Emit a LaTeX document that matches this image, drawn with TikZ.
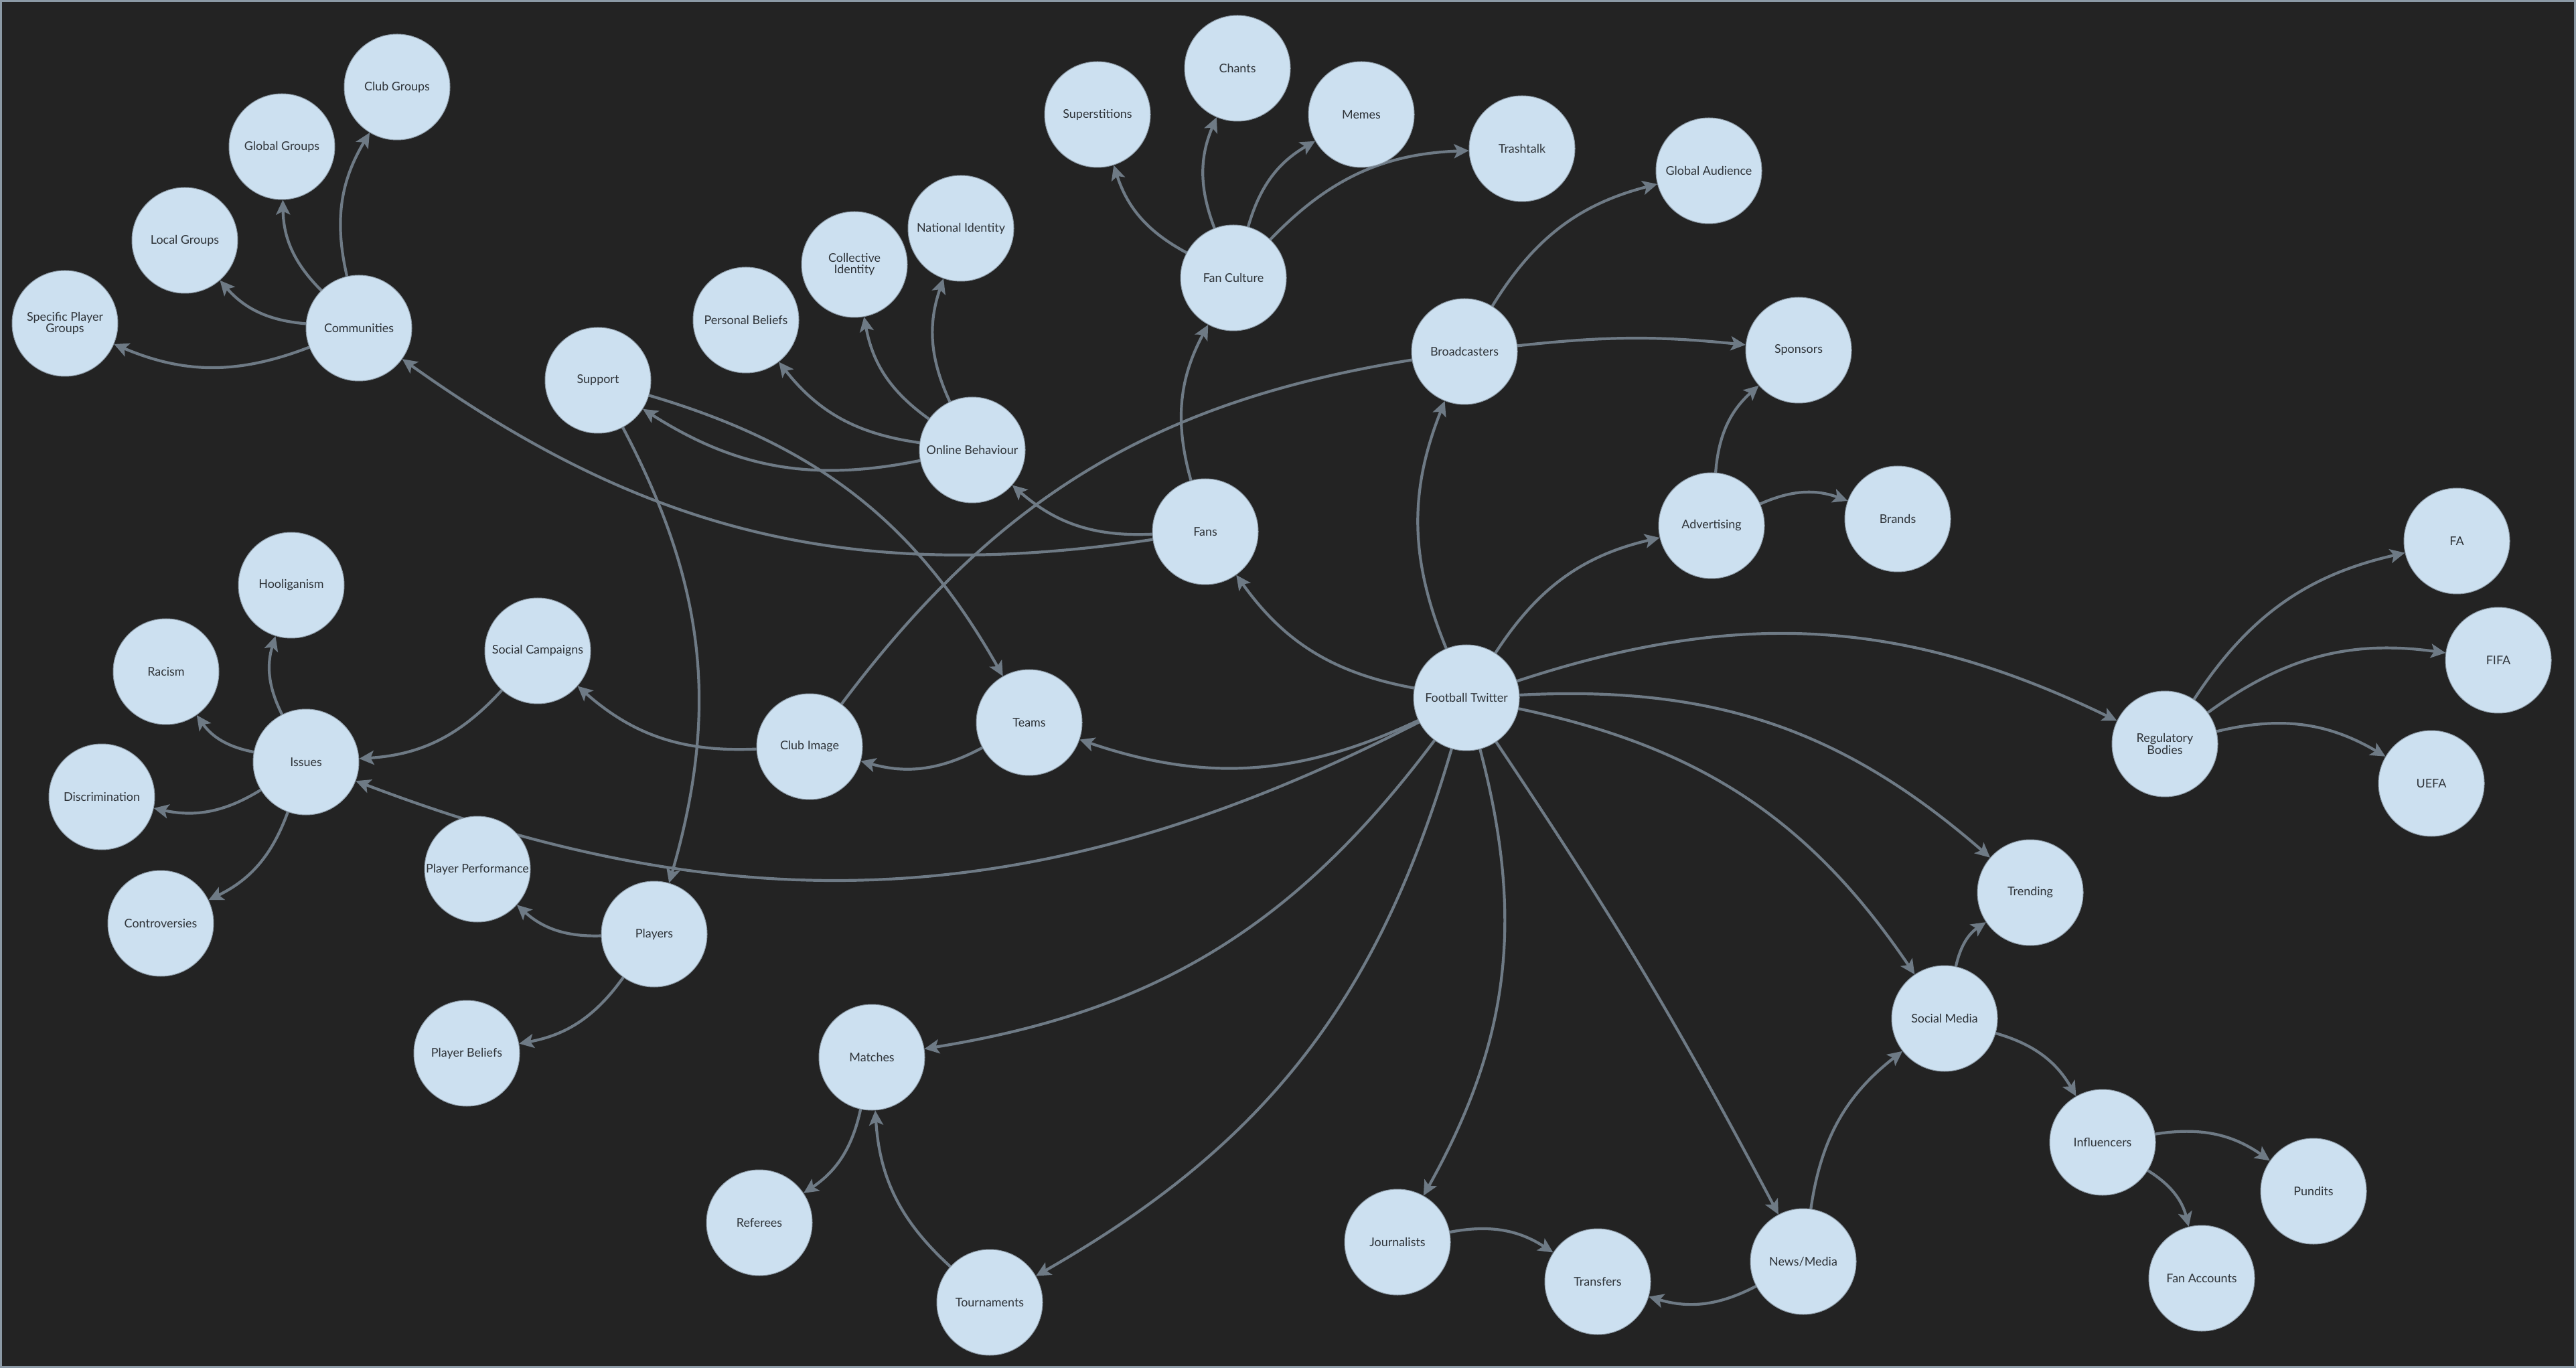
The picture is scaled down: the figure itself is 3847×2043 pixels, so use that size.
\documentclass[tikz,border=0pt]{standalone}
\usepackage{fontspec}
\setmainfont{Lato}
\usetikzlibrary{arrows.meta}
\definecolor{canvas}{HTML}{232323}
\definecolor{bubble}{HTML}{CCE0F0}
\definecolor{rim}{HTML}{8C9AA6}
\definecolor{wire}{HTML}{6E7A85}
\definecolor{ink}{HTML}{2E3338}
\pgfdeclarelayer{bg}
\pgfdeclarelayer{links}
\pgfsetlayers{bg,links,main}
\begin{document}
\begin{tikzpicture}[
  x=0.1mm, y=0.1mm,
  font=\fontsize{5.1}{5}\selectfont,
  topic/.style={circle,draw=rim,line width=0.1mm,fill=bubble,text=ink,
    minimum size=15.8mm,inner sep=0pt,align=center},
  link/.style={draw=wire,line width=0.42mm,bend left=22,
    -{Stealth[length=2.2mm,width=2.1mm,inset=0.5mm]}},
  plain/.style={draw=wire,line width=0.42mm,bend left=22}]
\useasboundingbox (0,0) rectangle (3847,-2043);
\begin{pgfonlayer}{bg}
  \fill[canvas] (0,0) rectangle (3847,-2043);
  \draw[rim,line width=0.3mm] (1.5,-1.5) rectangle (3845.5,-2041.5);
\end{pgfonlayer}
\node[topic] (ft) at (2190,-1042) {Football Twitter};
\node[topic] (fans) at (1800,-794) {Fans};
\node[topic] (fanculture) at (1842,-415) {Fan Culture};
\node[topic] (superstitions) at (1639,-171) {Superstitions};
\node[topic] (chants) at (1848,-102) {Chants};
\node[topic] (memes) at (2033,-171) {Memes};
\node[topic] (trashtalk) at (2273,-222) {Trashtalk};
\node[topic] (globalaud) at (2552,-255) {Global Audience};
\node[topic] (broadcasters) at (2187,-525) {Broadcasters};
\node[topic] (sponsors) at (2686,-523) {Sponsors};
\node[topic] (advertising) at (2556,-785) {Advertising};
\node[topic] (brands) at (2834,-775) {Brands};
\node[topic] (regbodies) at (3233,-1111) {Regulatory\\Bodies};
\node[topic] (fa) at (3669,-808) {FA};
\node[topic] (fifa) at (3731,-986) {FIFA};
\node[topic] (uefa) at (3631,-1170) {UEFA};
\node[topic] (trending) at (3032,-1333) {Trending};
\node[topic] (socialmedia) at (2904,-1521) {Social Media};
\node[topic] (influencers) at (3140,-1706) {Influencers};
\node[topic] (pundits) at (3455,-1779) {Pundits};
\node[topic] (fanaccounts) at (3288,-1909) {Fan Accounts};
\node[topic] (newsmedia) at (2693,-1884) {News/Media};
\node[topic] (transfers) at (2386,-1914) {Transfers};
\node[topic] (journalists) at (2087,-1855) {Journalists};
\node[topic] (tournaments) at (1478,-1945) {Tournaments};
\node[topic] (matches) at (1302,-1579) {Matches};
\node[topic] (referees) at (1134,-1826) {Referees};
\node[topic] (teams) at (1537,-1079) {Teams};
\node[topic] (clubimage) at (1209,-1115) {Club Image};
\node[topic] (socialcamp) at (803,-972) {Social Campaigns};
\node[topic] (issues) at (457,-1138) {Issues};
\node[topic] (hooliganism) at (435,-874) {Hooliganism};
\node[topic] (racism) at (248,-1003) {Racism};
\node[topic] (discrimination) at (152,-1190) {Discrimination};
\node[topic] (controversies) at (240,-1379) {Controversies};
\node[topic] (playerperf) at (713,-1298) {Player Performance};
\node[topic] (players) at (977,-1395) {Players};
\node[topic] (playerbeliefs) at (697,-1573) {Player Beliefs};
\node[topic] (support) at (893,-568) {Support};
\node[topic] (onlinebeh) at (1452,-672) {Online Behaviour};
\node[topic] (personalbel) at (1114,-478) {Personal Beliefs};
\node[topic] (collective) at (1276,-395) {Collective\\Identity};
\node[topic] (national) at (1435,-341) {National Identity};
\node[topic] (communities) at (536,-490) {Communities};
\node[topic] (clubgroups) at (593,-130) {Club Groups};
\node[topic] (globalgroups) at (421,-219) {Global Groups};
\node[topic] (localgroups) at (276,-359) {Local Groups};
\node[topic] (specific) at (97,-483) {Specific Player\\Groups};
\begin{pgfonlayer}{links}
  \draw[link] (ft) to (fans);
  \draw[link] (ft) to (broadcasters);
  \draw[link] (ft) to (advertising);
  \draw[link] (ft) to (regbodies);
  \draw[link] (ft) to (trending);
  \draw[link] (ft) to (socialmedia);
  \draw[link,bend left=3] (ft) to (newsmedia);
  \draw[link] (ft) to (journalists);
  \draw[link] (ft) to (tournaments);
  \draw[link] (ft) to (matches);
  \draw[link,bend left=24] (ft) to (issues);
  \draw[link] (ft) to (teams);
  \draw[link] (fans) to (communities);
  \draw[link] (fans) to (onlinebeh);
  \draw[link] (fans) to (fanculture);
  \draw[link] (fanculture) to (superstitions);
  \draw[link] (fanculture) to (chants);
  \draw[link] (fanculture) to (memes);
  \draw[link] (fanculture) to (trashtalk);
  \draw[link] (broadcasters) to (globalaud);
  \draw[link,bend left=6] (broadcasters) to (sponsors);
  \draw[plain] (clubimage) to (broadcasters);
  \draw[link] (advertising) to (sponsors);
  \draw[link] (advertising) to (brands);
  \draw[link] (regbodies) to (fa);
  \draw[link] (regbodies) to (fifa);
  \draw[link] (regbodies) to (uefa);
  \draw[link] (socialmedia) to (trending);
  \draw[link] (socialmedia) to (influencers);
  \draw[link] (influencers) to (pundits);
  \draw[link] (influencers) to (fanaccounts);
  \draw[link] (newsmedia) to (socialmedia);
  \draw[link] (newsmedia) to (transfers);
  \draw[link] (journalists) to (transfers);
  \draw[link] (tournaments) to (matches);
  \draw[link] (matches) to (referees);
  \draw[link] (teams) to (clubimage);
  \draw[link] (clubimage) to (socialcamp);
  \draw[link] (socialcamp) to (issues);
  \draw[link] (issues) to (hooliganism);
  \draw[link] (issues) to (racism);
  \draw[link] (issues) to (discrimination);
  \draw[link] (issues) to (controversies);
  \draw[link] (players) to (playerperf);
  \draw[link] (players) to (playerbeliefs);
  \draw[link] (support) to (players);
  \draw[link] (support) to (teams);
  \draw[link] (onlinebeh) to (support);
  \draw[link] (onlinebeh) to (personalbel);
  \draw[link] (onlinebeh) to (collective);
  \draw[link] (onlinebeh) to (national);
  \draw[link] (communities) to (clubgroups);
  \draw[link] (communities) to (globalgroups);
  \draw[link] (communities) to (localgroups);
  \draw[link] (communities) to (specific);
\end{pgfonlayer}
\end{tikzpicture}
\end{document}
